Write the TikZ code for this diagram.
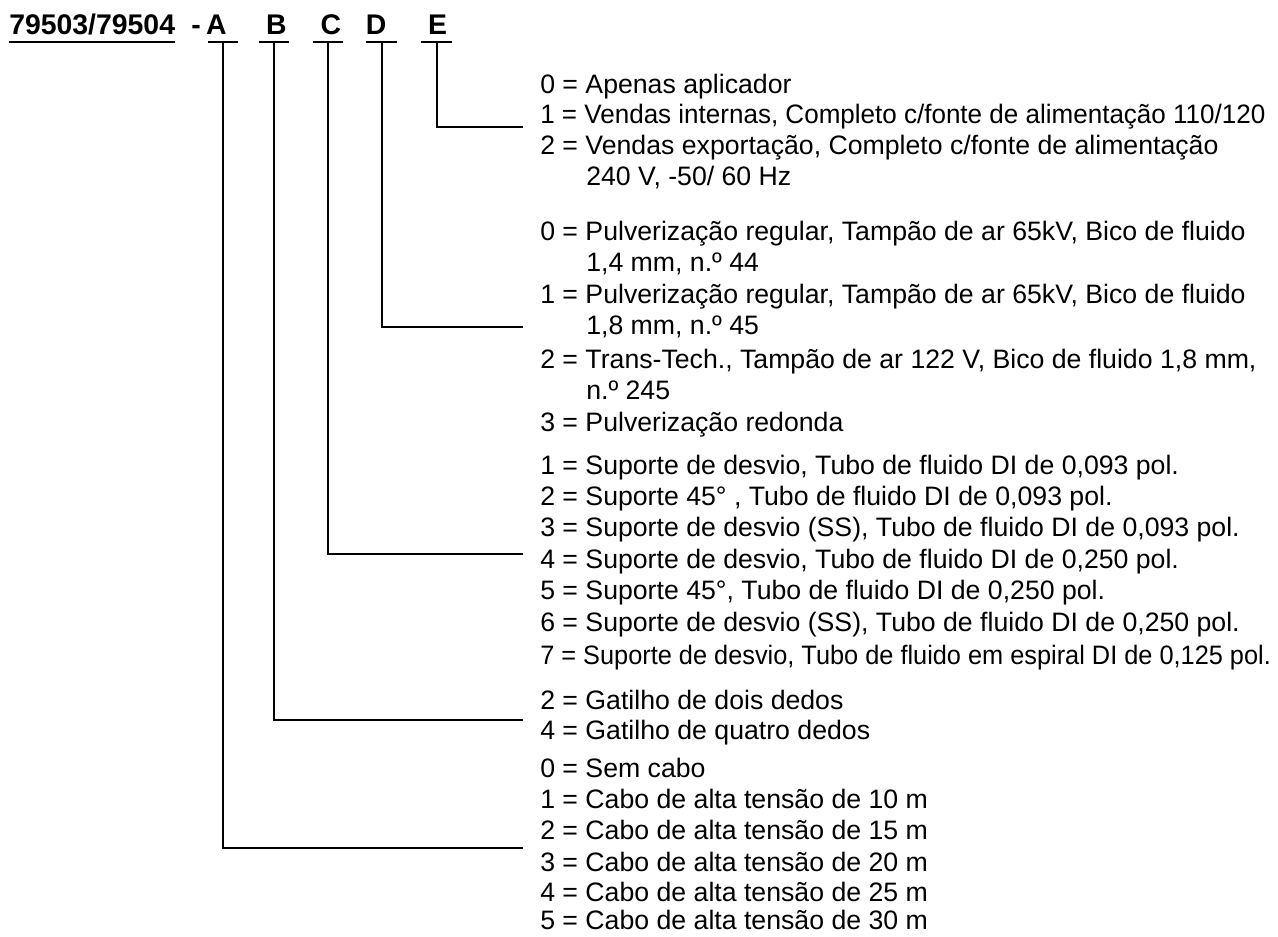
\documentclass[tikz,border=0pt]{standalone}
\usepackage{fontspec}
\setmainfont{Liberation Sans}
\begin{document}
\begin{tikzpicture}[x=0.75pt,y=-0.75pt,
  row/.style={anchor=base west,inner sep=0pt,font=\fontsize{20pt}{23pt}\selectfont},
  head/.style={anchor=base,inner sep=0pt,font=\fontsize{21.3pt}{24pt}\selectfont\bfseries},
  wire/.style={line width=1.5pt,line cap=rect},
  uline/.style={line width=1.5pt}]
\useasboundingbox (0,0) rectangle (1278,937);
% header
\node[head,anchor=base west] (code) at (9,35) {79503/79504};
\draw[uline] ([yshift=-5.25pt]code.base west) -- ([yshift=-5.25pt]code.base east);
\node[head] (dash) at (196,35) {-};
\node[head] (la) at (216.5,35) {A};
\node[head] (lb) at (276.5,35) {B};
\node[head] (lc) at (331,35) {C};
\node[head] (ld) at (376,35) {D};
\node[head] (le) at (437.5,35) {E};
% underline segments
\coordinate (ua1) at (208,42); \coordinate (ua2) at (238,42);
\coordinate (ub1) at (259,42); \coordinate (ub2) at (289,42);
\coordinate (uc1) at (313,42); \coordinate (uc2) at (343,42);
\coordinate (ud1) at (366,42); \coordinate (ud2) at (397,42);
\coordinate (ue1) at (421,42); \coordinate (ue2) at (452,42);
\foreach \s in {a,b,c,d,e} \draw[uline] (u\s1) -- (u\s2);
% tops of verticals
\coordinate (ta) at (223,42);
\coordinate (tb) at (274,42);
\coordinate (tc) at (328,42);
\coordinate (td) at (381.5,42);
\coordinate (te) at (436.5,42);
% ends
\coordinate (ea) at (522,848);
\coordinate (eb) at (522,720);
\coordinate (ec) at (522,554);
\coordinate (ed) at (522,327);
\coordinate (ee) at (522,127);
\draw[wire] (ta) |- (ea);
\draw[wire] (tb) |- (eb);
\draw[wire] (tc) |- (ec);
\draw[wire] (td) |- (ed);
\draw[wire] (te) |- (ee);
% E
\node[row] (e0) at (540,93.5) {0 = Apenas aplicador};
\node[row] (e1) at (540,124) {\scalebox{0.976}[1]{1 = Vendas internas, Completo c/fonte de alimentação 110/120}};
\node[row] (e2) at (540,154.5) {2 = Vendas exportação, Completo c/fonte de alimentação};
\node[row] (e2b) at (586,185.5) {240 V, -50/ 60 Hz};
% D
\node[row] (d0) at (540,240.5) {0 = Pulverização regular, Tampão de ar 65kV, Bico de fluido};
\node[row] (d0b) at (586,271.5) {1,4 mm, n.º 44};
\node[row] (d1) at (540,303.5) {1 = Pulverização regular, Tampão de ar 65kV, Bico de fluido};
\node[row] (d1b) at (586,334.5) {1,8 mm, n.º 45};
\node[row] (d2) at (540,368.5) {2 = Trans-Tech., Tampão de ar 122 V, Bico de fluido 1,8 mm,};
\node[row] (d2b) at (586,399.5) {n.º 245};
\node[row] (d3) at (540,431.5) {3 = Pulverização redonda};
% C
\node[row] (c1) at (540,474.5) {1 = Suporte de desvio, Tubo de fluido DI de 0,093 pol.};
\node[row] (c2) at (540,505.5) {2 = Suporte 45° , Tubo de fluido DI de 0,093 pol.};
\node[row] (c3) at (540,536.5) {3 = Suporte de desvio (SS), Tubo de fluido DI de 0,093 pol.};
\node[row] (c4) at (540,568.5) {4 = Suporte de desvio, Tubo de fluido DI de 0,250 pol.};
\node[row] (c5) at (540,599.5) {5 = Suporte 45°, Tubo de fluido DI de 0,250 pol.};
\node[row] (c6) at (540,631.5) {6 = Suporte de desvio (SS), Tubo de fluido DI de 0,250 pol.};
\node[row] (c7) at (540,664.5) {\scalebox{0.95}[1]{7 = Suporte de desvio, Tubo de fluido em espiral DI de 0,125 pol.}};
% B
\node[row] (b2) at (540,709.5) {2 = Gatilho de dois dedos};
\node[row] (b4) at (540,739.5) {4 = Gatilho de quatro dedos};
% A
\node[row] (a0) at (540,777.5) {0 = Sem cabo};
\node[row] (a1) at (540,808.5) {1 = Cabo de alta tensão de 10 m};
\node[row] (a2) at (540,839.5) {2 = Cabo de alta tensão de 15 m};
\node[row] (a3) at (540,871.5) {3 = Cabo de alta tensão de 20 m};
\node[row] (a4) at (540,901.5) {4 = Cabo de alta tensão de 25 m};
\node[row] (a5) at (540,929.5) {5 = Cabo de alta tensão de 30 m};
\end{tikzpicture}
\end{document}
